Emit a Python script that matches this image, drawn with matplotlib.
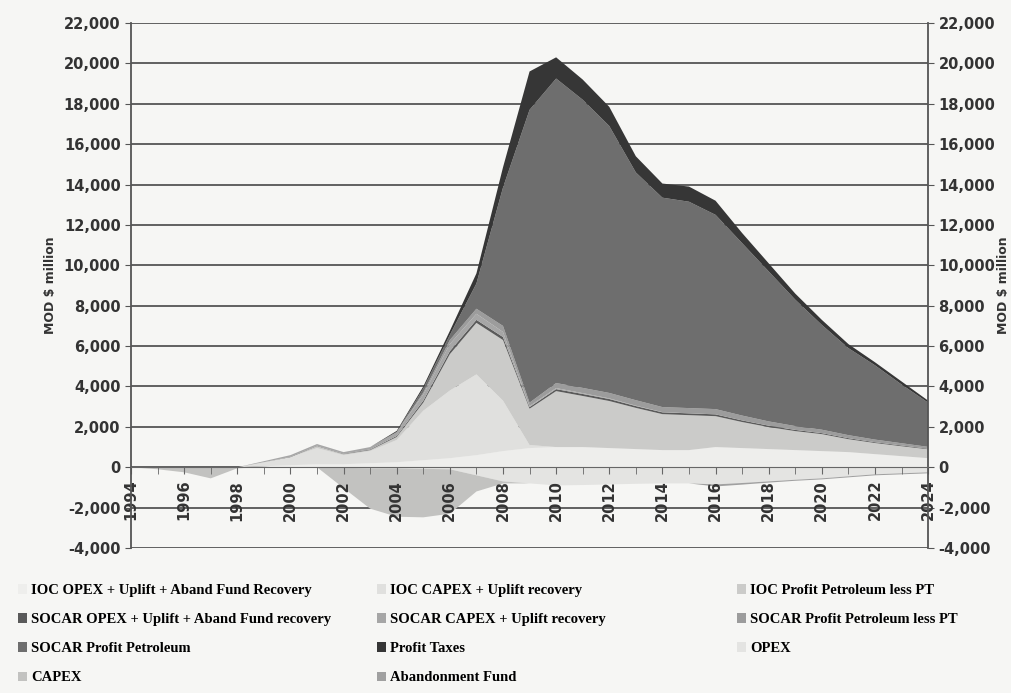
import numpy as np
import matplotlib
matplotlib.use("Agg")
import matplotlib.pyplot as plt
from matplotlib.ticker import FuncFormatter, MultipleLocator
from matplotlib.patches import Patch

# Data (MOD $ million), 1994-2024
years = list(range(1994, 2025))

ioc_opex = [0, 0, 0, 0, 0, 50, 100, 150, 150, 200, 250, 350, 450, 600, 800, 950,
            1000, 1000, 950, 900, 850, 850, 1000, 950, 900, 850, 800, 750, 650, 550, 450]
ioc_capex = [0, 0, 0, 0, 0, 200, 400, 800, 450, 600, 1100, 2450, 3350, 4000, 2500, 150,
             0, 0, 0, 0, 0, 0, 0, 0, 0, 0, 0, 0, 0, 0, 0]
ioc_pp = [0, 0, 0, 0, 0, 0, 0, 100, 50, 50, 150, 400, 1800, 2550, 3000, 1800,
          2770, 2530, 2330, 2040, 1780, 1730, 1530, 1290, 1090, 940, 840, 640, 550, 490, 440]
socar_opex = [0, 0, 0, 0, 0, 0, 20, 20, 20, 30, 50, 100, 150, 150, 150, 80,
              100, 100, 100, 90, 90, 90, 90, 80, 70, 60, 50, 50, 40, 40, 30]
socar_capex = [0, 0, 0, 0, 0, 50, 80, 80, 80, 120, 200, 300, 350, 300, 250, 50,
               50, 40, 30, 20, 10, 0, 0, 0, 0, 0, 0, 0, 0, 0, 0]
socar_pp_less = [0, 0, 0, 0, 0, 0, 0, 0, 0, 0, 0, 100, 200, 250, 300, 170,
                 250, 260, 270, 270, 250, 260, 260, 240, 210, 190, 170, 150, 130, 110, 90]
socar_pp = [0, 0, 0, 0, 0, 0, 0, 0, 0, 0, 0, 200, 250, 1250, 6850, 14500,
            15080, 14270, 13220, 11280, 10370, 10220, 9620, 8540, 7430, 6260, 5190, 4310, 3680, 2910, 2190]
profit_taxes = [0, 0, 0, 0, 0, 0, 0, 0, 0, 0, 50, 100, 200, 500, 1000, 1900,
                1050, 1000, 950, 800, 700, 750, 700, 500, 400, 300, 250, 200, 150, 150, 100]

opex = [0, 0, 0, 0, 0, 0, 0, 0, -30, -50, -50, -80, -100, -400, -700, -800,
        -900, -880, -850, -820, -800, -800, -850, -780, -700, -620, -550, -450, -350, -300, -250]
capex = [0, -100, -250, -550, -50, 0, 0, 0, -1000, -2000, -2400, -2400, -2200, -800, -100, 0,
         0, 0, 0, 0, 0, 0, 0, 0, 0, 0, 0, 0, 0, 0, 0]
aband_fund = [0, 0, 0, 0, 0, 0, 0, 0, 0, 0, 0, 0, 0, 0, 0, 0,
              0, 0, 0, 0, 0, 0, -100, -80, -60, -50, -50, -50, -50, -50, -50]

pos_labels = ['IOC OPEX + Uplift + Aband Fund Recovery', 'IOC CAPEX + Uplift recovery',
              'IOC Profit Petroleum less PT', 'SOCAR OPEX + Uplift + Aband Fund recovery',
              'SOCAR CAPEX + Uplift recovery', 'SOCAR Profit Petroleum less PT',
              'SOCAR Profit Petroleum', 'Profit Taxes']
neg_labels = ['OPEX', 'CAPEX', 'Abandonment Fund']
pos_colors = ['#eeeeec', '#e0e0de', '#cbcbc9', '#5a5a5a', '#a6a6a6', '#9c9c9c', '#6e6e6e', '#363636']
neg_colors = ['#e4e4e2', '#c2c2c0', '#a0a0a0']

bg = '#f6f6f4'
fmt = FuncFormatter(lambda v, p: f'{int(v):,}')
fig = plt.figure(figsize=(10.11, 6.93), dpi=100, facecolor=bg)
ax = fig.add_axes([0.1296, 0.2092, 0.7884, 0.7576])
ax2 = ax.twinx()

# twin axis sits underneath: background, gridlines and right-hand labels
ax2.set_zorder(1)
ax.set_zorder(2)
ax.patch.set_visible(False)
ax2.set_facecolor(bg)
ax2.set_ylim(-4000, 22000)
ax2.yaxis.set_major_locator(MultipleLocator(2000))
ax2.yaxis.set_major_formatter(fmt)
ax2.grid(axis='y', color='#555555', linewidth=1.3)
ax2.tick_params(axis='y', length=4, color='#555555', labelsize=10.5, labelcolor='#333333')
for t in ax2.get_yticklabels():
    t.set_fontweight('bold')
for s in ax2.spines.values():
    s.set_visible(False)
ax2.set_ylabel('MOD $ million', fontsize=9, fontweight='bold', color='#333333', rotation=90)
ax2.yaxis.set_label_coords(1.087, 0.5)

ax.stackplot(years, ioc_opex, ioc_capex, ioc_pp, socar_opex, socar_capex,
             socar_pp_less, socar_pp, profit_taxes, colors=pos_colors, linewidth=0)
ax.stackplot(years, opex, capex, aband_fund, colors=neg_colors, linewidth=0)

ax.set_xlim(1994, 2024)
ax.set_ylim(-4000, 22000)
ax.yaxis.set_major_locator(MultipleLocator(2000))
ax.yaxis.set_major_formatter(fmt)

# category axis crosses at zero
ax.spines['bottom'].set_position(('data', 0))
ax.spines['bottom'].set_color('#666666')
ax.spines['top'].set_visible(False)
for s in ['left', 'right']:
    ax.spines[s].set_color('#555555')
    ax.spines[s].set_linewidth(1.3)
ax.xaxis.set_major_locator(MultipleLocator(2))
ax.xaxis.set_minor_locator(MultipleLocator(1))
ax.tick_params(axis='x', which='both', direction='out', length=5, color='#666666')
ax.tick_params(axis='x', labelrotation=90, labelsize=10.5, pad=4, labelcolor='#333333')
for t in ax.get_xticklabels():
    t.set_fontweight('bold')

ax.tick_params(axis='y', length=4, color='#555555', labelsize=10.5, labelcolor='#333333')
for t in ax.get_yticklabels():
    t.set_fontweight('bold')
ax.set_ylabel('MOD $ million', fontsize=9, fontweight='bold', color='#333333')
ax.yaxis.set_label_coords(-0.093, 0.5)

# legend, laid out row by row in three columns
all_labels = pos_labels + neg_labels
all_colors = pos_colors + neg_colors
cols = [[0, 3, 6, 9], [1, 4, 7, 10], [2, 5, 8]]
col_x = [0.005, 0.36, 0.716]
for cx, idx in zip(col_x, cols):
    handles = [Patch(facecolor=all_colors[i], edgecolor='none') for i in idx]
    fig.legend(handles, [all_labels[i] for i in idx], loc='upper left',
               bbox_to_anchor=(cx, 0.176), frameon=False, handlelength=0.6,
               handleheight=0.6, handletextpad=0.3, labelspacing=1.1,
               prop=dict(family='Liberation Serif', weight='bold', size=10.5))

fig.savefig('out.png', dpi=100, facecolor=bg)
